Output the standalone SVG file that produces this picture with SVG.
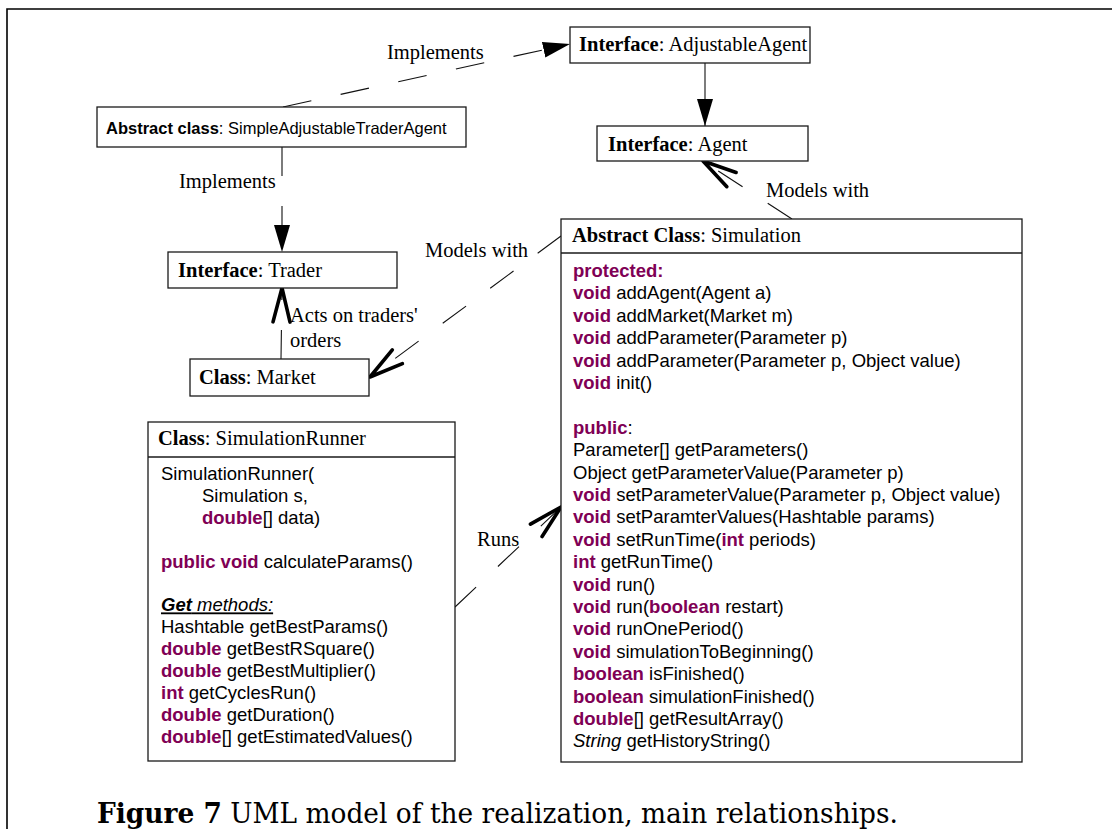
<svg xmlns="http://www.w3.org/2000/svg" width="1112" height="829" viewBox="0 0 1112 829">
  <style>
    .frame { fill: none; stroke: #000; stroke-width: 1.6; }
    .box { fill: #fff; stroke: #1a1a1a; stroke-width: 1.3; }
    .sep { stroke: #1a1a1a; stroke-width: 1.3; }
    .hdr { font-family: "Liberation Serif", "Times New Roman", serif; font-size: 20.5px; fill: #000; }
    .lbl { font-family: "Liberation Serif", "Times New Roman", serif; font-size: 20.5px; fill: #000; }
    .code { font-family: "Liberation Sans", Arial, sans-serif; font-size: 18.5px; fill: #000; }
    .small { font-family: "Liberation Sans", Arial, sans-serif; font-size: 16.5px; fill: #000; }
    .b { font-weight: bold; }
    .i { font-style: italic; }
    .kw { fill: #7f0055; font-weight: bold; }
    .conn { fill: none; stroke: #111; stroke-width: 1.1; }
    .dash { stroke-dasharray: 29 30; }
    .cap { font-family: "DejaVu Serif", "Liberation Serif", serif; font-size: 27px; fill: #000; }
  </style>
  <defs>
    <marker id="tri" viewBox="0 0 27 16" refX="27" refY="8" markerWidth="27" markerHeight="16" orient="auto" markerUnits="userSpaceOnUse">
      <path d="M0,0 L27,8 L0,16 z" fill="#000"/>
    </marker>
    <marker id="vee" viewBox="0 -12 40 24" refX="38" refY="0" markerWidth="40" markerHeight="24" orient="auto" markerUnits="userSpaceOnUse" overflow="visible">
      <path d="M4,-8.5 L38,0 L4,8.5" fill="none" stroke="#000" stroke-width="3.6" stroke-linecap="round" stroke-linejoin="round"/>
    </marker>
  </defs>

  <rect width="1112" height="829" fill="#fff"/>
  <path class="frame" d="M7,829 L7,9 L1112,9"/>

  <!-- relationships -->
  <g id="connectors">
    <line class="conn dash" x1="283" y1="107" x2="570" y2="44" marker-end="url(#tri)"/>
    <line class="conn" x1="705" y1="63" x2="705" y2="126" marker-end="url(#tri)"/>
    <line class="conn dash" x1="282" y1="147" x2="282" y2="252" marker-end="url(#tri)"/>
    <line class="conn dash" x1="281" y1="359" x2="282" y2="288" marker-end="url(#vee)"/>
    <line class="conn dash" x1="792" y1="219" x2="703" y2="161" marker-end="url(#vee)"/>
    <line class="conn dash" x1="561" y1="236" x2="370" y2="377" marker-end="url(#vee)"/>
    <line class="conn dash" x1="455" y1="607" x2="561" y2="507" marker-end="url(#vee)"/>

    <text class="lbl" x="387" y="59">Implements</text>
    <text class="lbl" x="179" y="188">Implements</text>
    <text class="lbl" x="766" y="197">Models with</text>
    <text class="lbl" x="425" y="257">Models with</text>
    <text class="lbl" x="290" y="322">Acts on traders'</text>
    <text class="lbl" x="290" y="347">orders</text>
    <text class="lbl" x="477" y="546">Runs</text>
  </g>

  <g id="adjustable-agent">
    <rect class="box" x="570" y="27" width="240" height="36"/>
    <text class="hdr" x="579" y="51"><tspan class="b">Interface</tspan>: AdjustableAgent</text>
  </g>

  <g id="agent">
    <rect class="box" x="597" y="126" width="211" height="35"/>
    <text class="hdr" x="608" y="151"><tspan class="b">Interface</tspan>: Agent</text>
  </g>

  <g id="simple-adjustable-trader-agent">
    <rect class="box" x="97" y="107" width="369" height="40"/>
    <text class="small" x="106" y="134"><tspan class="b">Abstract class</tspan>: SimpleAdjustableTraderAgent</text>
  </g>

  <g id="trader">
    <rect class="box" x="168" y="252" width="229" height="36"/>
    <text class="hdr" x="178" y="277"><tspan class="b">Interface</tspan>: Trader</text>
  </g>

  <g id="market">
    <rect class="box" x="190" y="359" width="179" height="37"/>
    <text class="hdr" x="199" y="384"><tspan class="b">Class</tspan>: Market</text>
  </g>

  <g id="simulation-runner">
    <rect class="box" x="148" y="422" width="307" height="339"/>
    <line class="sep" x1="148" y1="457" x2="455" y2="457"/>
    <text class="hdr" x="158" y="445"><tspan class="b">Class</tspan>: SimulationRunner</text>
    <g class="code">
      <text x="161" y="480">SimulationRunner(</text>
      <text x="202" y="501.9">Simulation s,</text>
      <text x="202" y="523.8"><tspan class="kw">double</tspan>[] data)</text>
      <text x="161" y="567.6"><tspan class="kw">public void</tspan> calculateParams()</text>
      <text x="161" y="611.4" class="i" text-decoration="underline"><tspan class="b">Get</tspan> methods:</text>
      <text x="161" y="633.3">Hashtable getBestParams()</text>
      <text x="161" y="655.2"><tspan class="kw">double</tspan> getBestRSquare()</text>
      <text x="161" y="677.1"><tspan class="kw">double</tspan> getBestMultiplier()</text>
      <text x="161" y="699"><tspan class="kw">int</tspan> getCyclesRun()</text>
      <text x="161" y="720.9"><tspan class="kw">double</tspan> getDuration()</text>
      <text x="161" y="742.8"><tspan class="kw">double</tspan>[] getEstimatedValues()</text>
    </g>
  </g>

  <g id="simulation">
    <rect class="box" x="561" y="219" width="461" height="543"/>
    <line class="sep" x1="561" y1="253" x2="1022" y2="253"/>
    <text class="hdr" x="572" y="242"><tspan class="b">Abstract Class</tspan>: Simulation</text>
    <g class="code">
      <text x="573" y="277"><tspan class="kw">protected:</tspan></text>
      <text x="573" y="299.4"><tspan class="kw">void</tspan> addAgent(Agent a)</text>
      <text x="573" y="321.8"><tspan class="kw">void</tspan> addMarket(Market m)</text>
      <text x="573" y="344.2"><tspan class="kw">void</tspan> addParameter(Parameter p)</text>
      <text x="573" y="366.6"><tspan class="kw">void</tspan> addParameter(Parameter p, Object value)</text>
      <text x="573" y="389"><tspan class="kw">void</tspan> init()</text>
      <text x="573" y="433.8"><tspan class="kw">public</tspan>:</text>
      <text x="573" y="456.2">Parameter[] getParameters()</text>
      <text x="573" y="478.6">Object getParameterValue(Parameter p)</text>
      <text x="573" y="501"><tspan class="kw">void</tspan> setParameterValue(Parameter p, Object value)</text>
      <text x="573" y="523.4"><tspan class="kw">void</tspan> setParamterValues(Hashtable params)</text>
      <text x="573" y="545.8"><tspan class="kw">void</tspan> setRunTime(<tspan class="kw">int</tspan> periods)</text>
      <text x="573" y="568.2"><tspan class="kw">int</tspan> getRunTime()</text>
      <text x="573" y="590.6"><tspan class="kw">void</tspan> run()</text>
      <text x="573" y="613"><tspan class="kw">void</tspan> run(<tspan class="kw">boolean</tspan> restart)</text>
      <text x="573" y="635.4"><tspan class="kw">void</tspan> runOnePeriod()</text>
      <text x="573" y="657.8"><tspan class="kw">void</tspan> simulationToBeginning()</text>
      <text x="573" y="680.2"><tspan class="kw">boolean</tspan> isFinished()</text>
      <text x="573" y="702.6"><tspan class="kw">boolean</tspan> simulationFinished()</text>
      <text x="573" y="725"><tspan class="kw">double</tspan>[] getResultArray()</text>
      <text x="573" y="747.4"><tspan class="i">String</tspan> getHistoryString()</text>
    </g>
  </g>

  <text class="cap" x="97" y="823" textLength="801" lengthAdjust="spacingAndGlyphs"><tspan class="b">Figure 7</tspan> UML model of the realization, main relationships.</text>
</svg>
